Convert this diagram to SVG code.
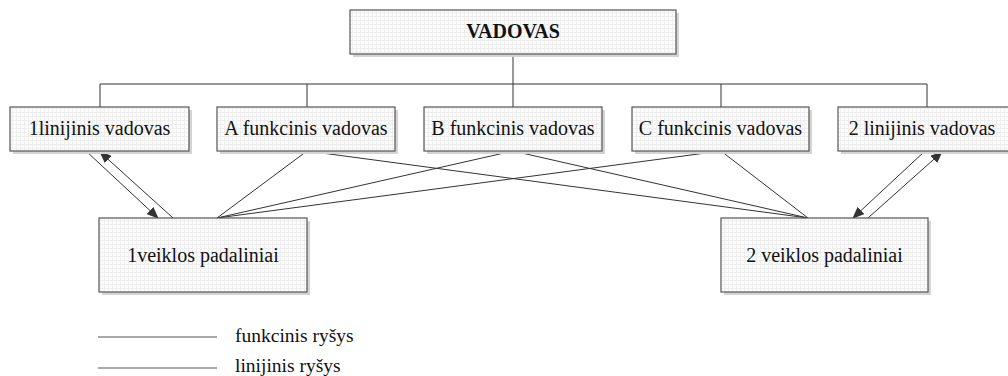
<svg xmlns="http://www.w3.org/2000/svg" width="1008" height="376" viewBox="0 0 1008 376">
<defs>
<pattern id="grid" width="4" height="4" patternUnits="userSpaceOnUse">
<rect width="4" height="4" fill="#fcfcfc"/>
<path d="M0 0.5H4M0.5 0V4" stroke="#eeeeee" stroke-width="1"/>
</pattern>
<marker id="arr" markerWidth="12" markerHeight="10" refX="11" refY="5" orient="auto" markerUnits="userSpaceOnUse">
<path d="M0 0L12 5L0 10z" fill="#333"/>
</marker>
<style>
.box{fill:url(#grid);stroke:#555;stroke-width:1.2}
.sh{fill:#d4d4d4}
.t{font-family:"Liberation Serif","Times New Roman","DejaVu Serif",serif;font-size:20px;fill:#111;text-anchor:middle}
.b{font-weight:bold}
.ln{stroke:#333;stroke-width:1;fill:none}
.lg{font-family:"Liberation Serif","Times New Roman","DejaVu Serif",serif;font-size:19.5px;fill:#111}
</style>
</defs>
<rect width="1008" height="376" fill="#fff"/>
<g id="connectors">
<path class="ln" d="M513 54V84M100 84H927M100 84V107M307 84V107M513 84V107M721 84V107M927 84V107"/>
<path class="ln" d="M217 218L307 151M217 218L513 151M217 218L721 151"/>
<path class="ln" d="M808 218L307 151M808 218L513 151M808 218L721 151"/>
<line class="ln" x1="86" y1="151" x2="158" y2="218" marker-end="url(#arr)"/>
<line class="ln" x1="173" y1="218" x2="100" y2="152" marker-end="url(#arr)"/>
<line class="ln" x1="925" y1="151" x2="853" y2="218" marker-end="url(#arr)"/>
<line class="ln" x1="868" y1="218" x2="942" y2="152" marker-end="url(#arr)"/>
</g>
<g id="vadovas">
<rect class="sh" x="353" y="13" width="326" height="44"/>
<rect class="box" x="350" y="10" width="326" height="44"/>
<text class="t b" x="513" y="38">VADOVAS</text>
</g>
<g id="linijinis1">
<rect class="sh" x="13" y="110" width="179" height="44"/>
<rect class="box" x="10" y="107" width="179" height="44"/>
<text class="t" x="99.5" y="135">1linijinis vadovas</text>
</g>
<g id="funkcinisA">
<rect class="sh" x="220" y="110" width="178" height="44"/>
<rect class="box" x="217" y="107" width="178" height="44"/>
<text class="t" x="306" y="135">A funkcinis vadovas</text>
</g>
<g id="funkcinisB">
<rect class="sh" x="427" y="110" width="178" height="44"/>
<rect class="box" x="424" y="107" width="178" height="44"/>
<text class="t" x="513" y="135">B funkcinis vadovas</text>
</g>
<g id="funkcinisC">
<rect class="sh" x="635" y="110" width="177" height="44"/>
<rect class="box" x="632" y="107" width="177" height="44"/>
<text class="t" x="720.5" y="135">C funkcinis vadovas</text>
</g>
<g id="linijinis2">
<rect class="sh" x="841" y="110" width="180" height="44"/>
<rect class="box" x="838" y="107" width="180" height="44"/>
<text class="t" x="922" y="135">2 linijinis vadovas</text>
</g>
<g id="veikla1">
<rect class="sh" x="102" y="221" width="208" height="74"/>
<rect class="box" x="99" y="218" width="208" height="74"/>
<text class="t" x="203" y="262">1veiklos padaliniai</text>
</g>
<g id="veikla2">
<rect class="sh" x="724" y="221" width="207" height="74"/>
<rect class="box" x="721" y="218" width="207" height="74"/>
<text class="t" x="824.5" y="262">2 veiklos padaliniai</text>
</g>
<g id="legend">
<line x1="98" y1="337" x2="217" y2="337" stroke="#555" stroke-width="1.2"/>
<line x1="98" y1="368" x2="217" y2="368" stroke="#555" stroke-width="1.2"/>
<text class="lg" x="235" y="342">funkcinis ryšys</text>
<text class="lg" x="235" y="372">linijinis ryšys</text>
</g>
</svg>
